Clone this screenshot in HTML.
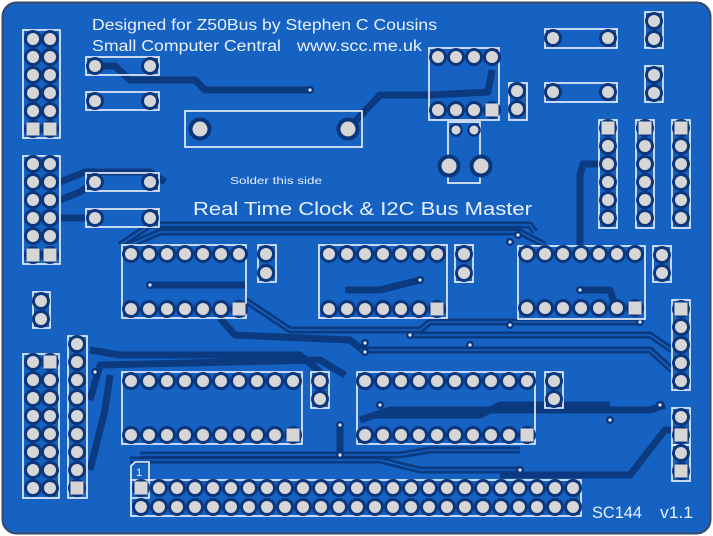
<!DOCTYPE html>
<html><head><meta charset="utf-8"><style>
html,body{margin:0;padding:0;background:#fff;width:713px;height:536px;overflow:hidden}
svg{display:block}
text{font-family:"Liberation Sans","DejaVu Sans",sans-serif;fill:#e8f0ff}
</style></head><body>
<svg width="713" height="536" viewBox="0 0 713 536" xmlns="http://www.w3.org/2000/svg">
<defs>
<g id="p"><circle r="9" fill="#0c367c"/><circle r="6" fill="#d6d6d6"/></g>
<g id="s"><circle r="9" fill="#0c367c"/><rect x="-6.5" y="-6.5" width="13" height="13" fill="#d6d6d6"/></g>
<g id="b"><circle r="11.5" fill="#0c367c"/><circle r="7.5" fill="#d6d6d6"/></g>
<g id="v"><circle r="4" fill="#0c367c"/><circle r="1.6" fill="#e0e8ff"/></g>
</defs>
<rect x="1" y="1" width="711" height="534" fill="#fff"/>
<rect x="2.5" y="2.5" width="708" height="531" rx="14" fill="#1562c2" stroke="#3a4a66" stroke-width="2"/>

<!-- traces -->
<g fill="none" stroke="#0b3a80" stroke-width="7" stroke-linejoin="round">
<path d="M95 66 L115 66 L130 80 L195 80 L205 90 L310 90"/>
<path d="M60 182 L85 172 L150 172 L165 182"/>
<path d="M60 200 L80 192 L95 182"/>
<path d="M60 218 L95 218"/>
<path d="M348 129 L380 95 L430 95 L488 92 L492 70"/>
<path d="M120 245 L150 225 L530 225 L535 232"/>
<path d="M130 245 L160 232 L520 232 L545 245"/>
<path d="M600 164 L583 164 L580 175 L580 245"/>
<path d="M245 300 L290 330 L420 330 L430 322 L640 322"/>
<path d="M220 318 L235 335 L350 340 L365 352"/>
<path d="M410 335 L470 335 L650 335 L672 350"/>
<path d="M360 350 L420 350 L650 350 L672 370"/>
<path d="M90 350 L120 355 L300 355 L320 372"/>
<path d="M90 400 L100 365 L320 360 L345 375"/>
<path d="M90 470 L105 410 L110 375"/>
<path d="M360 420 L390 410 L650 410 L665 405"/>
<path d="M375 415 L480 415 L500 405 L610 405"/>
<path d="M140 455 L400 455 L430 450 L520 450"/>
<path d="M130 460 L380 460 L420 470 L520 470"/>
<path d="M500 475 L630 475 L665 430 L681 430"/>
<path d="M150 285 L245 285"/>
<path d="M345 290 L380 290 L420 280"/>
<path d="M580 290 L610 290 L615 305"/>
<path d="M340 425 L340 455"/>
</g>
<g fill="none" stroke="#1562c2" stroke-width="1.6" stroke-linejoin="round">
<path d="M120 245 L150 225 L530 225 L535 232"/>
<path d="M130 245 L160 232 L520 232 L545 245"/>
<path d="M245 300 L290 330 L420 330 L430 322 L640 322"/>
<path d="M410 335 L470 335 L650 335 L672 350"/>
<path d="M360 350 L420 350 L650 350 L672 370"/>
<path d="M140 455 L400 455 L430 450 L520 450"/>
<path d="M130 460 L380 460 L420 470 L520 470"/>
</g>
<g>
<use href="#v" x="310" y="90"/><use href="#v" x="150" y="285"/><use href="#v" x="420" y="280"/>
<use href="#v" x="580" y="290"/><use href="#v" x="365" y="352"/><use href="#v" x="410" y="335"/>
<use href="#v" x="470" y="345"/><use href="#v" x="510" y="325"/><use href="#v" x="640" y="322"/>
<use href="#v" x="340" y="425"/><use href="#v" x="340" y="455"/><use href="#v" x="610" y="420"/>
<use href="#v" x="660" y="405"/><use href="#v" x="95" y="372"/><use href="#v" x="380" y="405"/>
<use href="#v" x="520" y="470"/><use href="#v" x="365" y="343"/><use href="#v" x="510" y="242"/>
<use href="#v" x="518" y="235"/>
</g>

<!-- silkscreen outlines -->
<g fill="none" stroke="#f2f6ff" stroke-width="1.6">
<rect x="23" y="30" width="37" height="108"/>
<rect x="23" y="156" width="37" height="108"/>
<rect x="86" y="57" width="73" height="18"/>
<rect x="86" y="92" width="73" height="18"/>
<rect x="86" y="173" width="73" height="18"/>
<rect x="86" y="209" width="73" height="18"/>
<rect x="185" y="111" width="177" height="36"/>
<rect x="429" y="48" width="70" height="72"/>
<rect x="509" y="83" width="18" height="37"/>
<rect x="448" y="122" width="32" height="61"/>
<rect x="545" y="29" width="72" height="19"/>
<rect x="545" y="83" width="72" height="19"/>
<rect x="645" y="12" width="18" height="36"/>
<rect x="645" y="66" width="18" height="36"/>
<rect x="599" y="120" width="18" height="108"/>
<rect x="636" y="120" width="18" height="108"/>
<rect x="672" y="120" width="18" height="108"/>
<rect x="122" y="245" width="124" height="73"/>
<rect x="258" y="245" width="18" height="37"/>
<rect x="319" y="245" width="128" height="73"/>
<rect x="455" y="245" width="18" height="37"/>
<rect x="518" y="246" width="127" height="73"/>
<rect x="653" y="246" width="18" height="36"/>
<rect x="33" y="292" width="17" height="36"/>
<rect x="23" y="354" width="36" height="144"/>
<rect x="68" y="336" width="19" height="162"/>
<rect x="122" y="372" width="180" height="72"/>
<rect x="311" y="372" width="18" height="36"/>
<rect x="357" y="372" width="178" height="72"/>
<rect x="545" y="372" width="18" height="36"/>
<rect x="672" y="300" width="18" height="90"/>
<rect x="672" y="408" width="18" height="37"/>
<rect x="672" y="445" width="18" height="36"/>
<rect x="131" y="480" width="450" height="36"/>
<path d="M131 480 L131 466 L135 462 L149 462 L149 498 L131 498"/>
</g>

<!-- pads -->
<g>
<use href="#p" x="33" y="39"/><use href="#p" x="50" y="39"/>
<use href="#p" x="33" y="57"/><use href="#p" x="50" y="57"/>
<use href="#p" x="33" y="75"/><use href="#p" x="50" y="75"/>
<use href="#p" x="33" y="93"/><use href="#p" x="50" y="93"/>
<use href="#p" x="33" y="111"/><use href="#p" x="50" y="111"/>
<use href="#s" x="33" y="129"/><use href="#s" x="50" y="129"/>
<use href="#p" x="33" y="164"/><use href="#p" x="50" y="164"/>
<use href="#p" x="33" y="182"/><use href="#p" x="50" y="182"/>
<use href="#p" x="33" y="200"/><use href="#p" x="50" y="200"/>
<use href="#p" x="33" y="218"/><use href="#p" x="50" y="218"/>
<use href="#p" x="33" y="236"/><use href="#p" x="50" y="236"/>
<use href="#s" x="33" y="255"/><use href="#s" x="50" y="255"/>
<use href="#p" x="95" y="66"/><use href="#p" x="150" y="66"/>
<use href="#p" x="95" y="101"/><use href="#p" x="150" y="101"/>
<use href="#p" x="95" y="182"/><use href="#p" x="150" y="182"/>
<use href="#p" x="95" y="218"/><use href="#p" x="150" y="218"/>
<use href="#b" x="200" y="129"/><use href="#b" x="348" y="129"/>
<use href="#p" x="438" y="57"/><use href="#p" x="456" y="57"/><use href="#p" x="474" y="57"/><use href="#p" x="492" y="57"/>
<use href="#p" x="438" y="110"/><use href="#p" x="456" y="110"/><use href="#p" x="474" y="110"/><use href="#s" x="492" y="110"/>
<use href="#p" x="517" y="91"/><use href="#p" x="517" y="109"/>
<g transform="translate(456 130) scale(.75)"><use href="#p"/></g>
<g transform="translate(474 130) scale(.75)"><use href="#p"/></g>
<use href="#b" x="449" y="166"/><use href="#b" x="481" y="166"/>
<use href="#p" x="553" y="38"/><use href="#p" x="608" y="38"/>
<use href="#p" x="553" y="92"/><use href="#p" x="608" y="92"/>
<use href="#p" x="654" y="21"/><use href="#p" x="654" y="39"/>
<use href="#p" x="654" y="75"/><use href="#p" x="654" y="93"/>
<use href="#s" x="608" y="128"/><use href="#p" x="608" y="146"/><use href="#p" x="608" y="164"/><use href="#p" x="608" y="182"/><use href="#p" x="608" y="200"/><use href="#p" x="608" y="218"/>
<use href="#s" x="645" y="128"/><use href="#p" x="645" y="146"/><use href="#p" x="645" y="164"/><use href="#p" x="645" y="182"/><use href="#p" x="645" y="200"/><use href="#p" x="645" y="218"/>
<use href="#s" x="681" y="128"/><use href="#p" x="681" y="146"/><use href="#p" x="681" y="164"/><use href="#p" x="681" y="182"/><use href="#p" x="681" y="200"/><use href="#p" x="681" y="218"/>
<use href="#p" x="131" y="254"/><use href="#p" x="149" y="254"/><use href="#p" x="167" y="254"/><use href="#p" x="185" y="254"/><use href="#p" x="203" y="254"/><use href="#p" x="221" y="254"/><use href="#p" x="239" y="254"/>
<use href="#p" x="131" y="309"/><use href="#p" x="149" y="309"/><use href="#p" x="167" y="309"/><use href="#p" x="185" y="309"/><use href="#p" x="203" y="309"/><use href="#p" x="221" y="309"/><use href="#s" x="239" y="309"/>
<use href="#p" x="266" y="254"/><use href="#p" x="266" y="273"/>
<use href="#p" x="329" y="254"/><use href="#p" x="347" y="254"/><use href="#p" x="365" y="254"/><use href="#p" x="383" y="254"/><use href="#p" x="401" y="254"/><use href="#p" x="419" y="254"/><use href="#p" x="437" y="254"/>
<use href="#p" x="329" y="309"/><use href="#p" x="347" y="309"/><use href="#p" x="365" y="309"/><use href="#p" x="383" y="309"/><use href="#p" x="401" y="309"/><use href="#p" x="419" y="309"/><use href="#s" x="437" y="309"/>
<use href="#p" x="464" y="254"/><use href="#p" x="464" y="273"/>
<use href="#p" x="527" y="254"/><use href="#p" x="545" y="254"/><use href="#p" x="563" y="254"/><use href="#p" x="581" y="254"/><use href="#p" x="599" y="254"/><use href="#p" x="617" y="254"/><use href="#p" x="635" y="254"/>
<use href="#p" x="527" y="308"/><use href="#p" x="545" y="308"/><use href="#p" x="563" y="308"/><use href="#p" x="581" y="308"/><use href="#p" x="599" y="308"/><use href="#p" x="617" y="308"/><use href="#s" x="635" y="308"/>
<use href="#p" x="662" y="255"/><use href="#p" x="662" y="273"/>
<use href="#p" x="41" y="301"/><use href="#p" x="41" y="319"/>
<use href="#p" x="33" y="362"/><use href="#s" x="50" y="362"/>
<use href="#p" x="33" y="380"/><use href="#p" x="50" y="380"/>
<use href="#p" x="33" y="398"/><use href="#p" x="50" y="398"/>
<use href="#p" x="33" y="416"/><use href="#p" x="50" y="416"/>
<use href="#p" x="33" y="434"/><use href="#p" x="50" y="434"/>
<use href="#p" x="33" y="452"/><use href="#p" x="50" y="452"/>
<use href="#p" x="33" y="470"/><use href="#p" x="50" y="470"/>
<use href="#p" x="33" y="488"/><use href="#p" x="50" y="488"/>
<use href="#p" x="77" y="344"/><use href="#p" x="77" y="362"/><use href="#p" x="77" y="380"/><use href="#p" x="77" y="398"/><use href="#p" x="77" y="416"/><use href="#p" x="77" y="434"/><use href="#p" x="77" y="452"/><use href="#p" x="77" y="470"/><use href="#s" x="77" y="488"/>
<use href="#p" x="131" y="381"/><use href="#p" x="149" y="381"/><use href="#p" x="167" y="381"/><use href="#p" x="185" y="381"/><use href="#p" x="203" y="381"/><use href="#p" x="221" y="381"/><use href="#p" x="239" y="381"/><use href="#p" x="257" y="381"/><use href="#p" x="275" y="381"/><use href="#p" x="293" y="381"/>
<use href="#p" x="131" y="435"/><use href="#p" x="149" y="435"/><use href="#p" x="167" y="435"/><use href="#p" x="185" y="435"/><use href="#p" x="203" y="435"/><use href="#p" x="221" y="435"/><use href="#p" x="239" y="435"/><use href="#p" x="257" y="435"/><use href="#p" x="275" y="435"/><use href="#s" x="293" y="435"/>
<use href="#p" x="320" y="381"/><use href="#p" x="320" y="399"/>
<use href="#p" x="365" y="381"/><use href="#p" x="383" y="381"/><use href="#p" x="401" y="381"/><use href="#p" x="419" y="381"/><use href="#p" x="437" y="381"/><use href="#p" x="455" y="381"/><use href="#p" x="473" y="381"/><use href="#p" x="491" y="381"/><use href="#p" x="509" y="381"/><use href="#p" x="527" y="381"/>
<use href="#p" x="365" y="435"/><use href="#p" x="383" y="435"/><use href="#p" x="401" y="435"/><use href="#p" x="419" y="435"/><use href="#p" x="437" y="435"/><use href="#p" x="455" y="435"/><use href="#p" x="473" y="435"/><use href="#p" x="491" y="435"/><use href="#p" x="509" y="435"/><use href="#s" x="527" y="435"/>
<use href="#p" x="554" y="381"/><use href="#p" x="554" y="399"/>
<use href="#s" x="681" y="309"/><use href="#p" x="681" y="327"/><use href="#p" x="681" y="345"/><use href="#p" x="681" y="363"/><use href="#p" x="681" y="381"/>
<use href="#p" x="681" y="417"/><use href="#s" x="681" y="435"/><use href="#p" x="681" y="453"/><use href="#s" x="681" y="471"/>
<use href="#s" x="141" y="488"/><use href="#p" x="159" y="488"/><use href="#p" x="177" y="488"/><use href="#p" x="195" y="488"/><use href="#p" x="213" y="488"/><use href="#p" x="231" y="488"/><use href="#p" x="249" y="488"/><use href="#p" x="267" y="488"/><use href="#p" x="285" y="488"/><use href="#p" x="303" y="488"/><use href="#p" x="321" y="488"/><use href="#p" x="339" y="488"/><use href="#p" x="357" y="488"/><use href="#p" x="375" y="488"/><use href="#p" x="393" y="488"/><use href="#p" x="411" y="488"/><use href="#p" x="429" y="488"/><use href="#p" x="447" y="488"/><use href="#p" x="465" y="488"/><use href="#p" x="483" y="488"/><use href="#p" x="501" y="488"/><use href="#p" x="519" y="488"/><use href="#p" x="537" y="488"/><use href="#p" x="555" y="488"/><use href="#p" x="573" y="488"/>
<use href="#p" x="141" y="507"/><use href="#p" x="159" y="507"/><use href="#p" x="177" y="507"/><use href="#p" x="195" y="507"/><use href="#p" x="213" y="507"/><use href="#p" x="231" y="507"/><use href="#p" x="249" y="507"/><use href="#p" x="267" y="507"/><use href="#p" x="285" y="507"/><use href="#p" x="303" y="507"/><use href="#p" x="321" y="507"/><use href="#p" x="339" y="507"/><use href="#p" x="357" y="507"/><use href="#p" x="375" y="507"/><use href="#p" x="393" y="507"/><use href="#p" x="411" y="507"/><use href="#p" x="429" y="507"/><use href="#p" x="447" y="507"/><use href="#p" x="465" y="507"/><use href="#p" x="483" y="507"/><use href="#p" x="501" y="507"/><use href="#p" x="519" y="507"/><use href="#p" x="537" y="507"/><use href="#p" x="555" y="507"/><use href="#p" x="573" y="507"/>
</g>

<text x="92" y="30" font-size="15.5" textLength="345" lengthAdjust="spacingAndGlyphs">Designed for Z50Bus by Stephen C Cousins</text>
<text x="92" y="51" font-size="15.5" textLength="189" lengthAdjust="spacingAndGlyphs">Small Computer Central</text>
<text x="297" y="51" font-size="15.5" textLength="125" lengthAdjust="spacingAndGlyphs">www.scc.me.uk</text>
<text x="230" y="184" font-size="10.5" textLength="92" lengthAdjust="spacingAndGlyphs">Solder this side</text>
<text x="193" y="215" font-size="18" textLength="339" lengthAdjust="spacingAndGlyphs">Real Time Clock &amp; I2C Bus Master</text>
<text x="136" y="476" font-size="11">1</text>
<text x="592" y="518" font-size="17" textLength="50" lengthAdjust="spacingAndGlyphs">SC144</text>
<text x="660" y="518" font-size="17" textLength="33" lengthAdjust="spacingAndGlyphs">v1.1</text>
</svg>
</body></html>
